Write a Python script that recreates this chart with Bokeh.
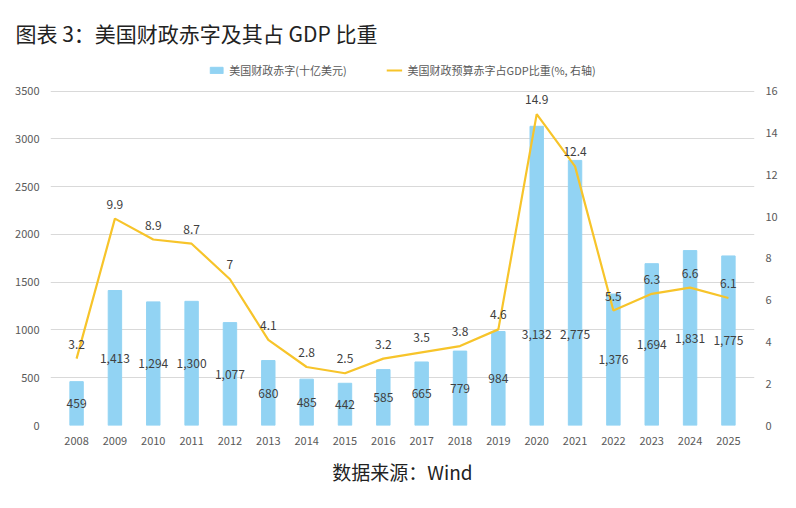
from bokeh.plotting import figure
from bokeh.models import Range1d, LinearAxis, Legend, LegendItem, Title, ColumnDataSource, FixedTicker
from bokeh.core.properties import value
from bokeh.embed import file_html
from bokeh.resources import INLINE

years = [str(y) for y in range(2008, 2026)]
deficit = [459, 1413, 1294, 1300, 1077, 680, 485, 442, 585, 665, 779, 984, 3132, 2775, 1376, 1694, 1831, 1775]
ratio = [3.2, 9.9, 8.9, 8.7, 7, 4.1, 2.8, 2.5, 3.2, 3.5, 3.8, 4.6, 14.9, 12.4, 5.5, 6.3, 6.6, 6.1]
deficit_labels = [f"{v:,}" for v in deficit]
ratio_labels = ["3.2", "9.9", "8.9", "8.7", "7", "4.1", "2.8", "2.5", "3.2", "3.5", "3.8", "4.6", "14.9", "12.4", "5.5", "6.3", "6.6", "6.1"]

BLUE = "#92D3F3"
GOLD = "#F7C42A"
FONT = "Noto Sans CJK SC"
TOP = 3800

p = figure(x_range=years, y_range=Range1d(0, TOP), width=780, height=492,
           output_backend="svg", toolbar_location=None,
           min_border_left=50, min_border_right=26, min_border_bottom=40, min_border_top=59)
p.extra_y_ranges = {"r": Range1d(0, 16 * TOP / 3500)}

src = ColumnDataSource(dict(x=years, d=deficit, r=ratio, dl=deficit_labels, rl=ratio_labels,
                            dy=[min(v / 2, 950) for v in deficit]))
bars = p.vbar(x="x", top="d", width=0.35, color=BLUE, source=src)
line = p.line(x="x", y="r", line_color=GOLD, line_width=2.2, y_range_name="r", source=src)

p.text(x="x", y="dy", text="dl", source=src, text_align="center", text_baseline="middle",
       text_font=value(FONT), text_font_size="12px", text_color="#404040")
p.text(x="x", y="r", text="rl", source=src, y_range_name="r", y_offset=-10,
       text_align="center", text_baseline="bottom",
       text_font=value(FONT), text_font_size="12px", text_color="#404040")

p.yaxis.ticker = FixedTicker(ticks=list(range(0, 3501, 500)))
ra = LinearAxis(y_range_name="r", ticker=FixedTicker(ticks=list(range(0, 17, 2))))
p.add_layout(ra, "right")
for ax in [p.xaxis[0], p.yaxis[0], ra]:
    ax.axis_line_color = None
    ax.major_tick_line_color = None
    ax.minor_tick_line_color = None
    ax.major_label_text_font = FONT
    ax.major_label_text_font_size = "11px"
    ax.major_label_text_color = "#595959"
p.ygrid.grid_line_color = "#D9D9D9"
p.xgrid.grid_line_color = None
p.outline_line_color = None
p.x_range.range_padding = 0.02

legend = Legend(items=[LegendItem(label="美国财政赤字(十亿美元)", renderers=[bars]),
                       LegendItem(label="美国财政预算赤字占GDP比重(%, 右轴)", renderers=[line])],
                orientation="horizontal", location="top_center", label_text_font=FONT,
                label_text_font_size="11px", label_text_color="#595959",
                glyph_width=16, glyph_height=8, spacing=40, border_line_color=None,
                background_fill_alpha=0, margin=0, padding=2)
p.add_layout(legend)

p.title.text = "图表 3：美国财政赤字及其占 GDP 比重"
p.title.text_font = FONT
p.title.text_font_size = "21px"
p.title.text_font_style = "normal"
p.title.text_color = "#222222"
p.title.offset = -35
p.title.standoff = 30
p.add_layout(Title(text="数据来源：Wind", text_font=FONT, text_font_size="19px",
                   text_font_style="normal", text_color="#222222", align="center", standoff=16), "below")

open("out.html", "w").write(file_html(p, INLINE))
